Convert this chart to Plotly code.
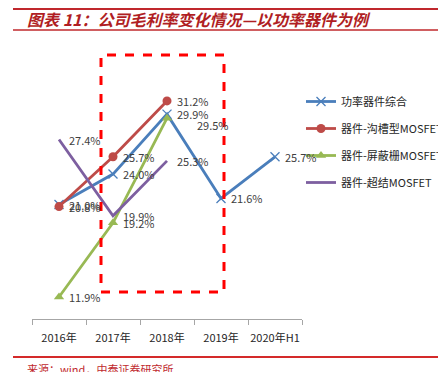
import plotly.graph_objects as go

categories = ["2016年", "2017年", "2018年", "2019年", "2020年H1"]
series_names = ["功率器件综合", "器件-沟槽型MOSFET", "器件-屏蔽栅MOSFET", "器件-超结MOSFET"]
composite = [21.0, 24.0, 29.9, 21.6, 25.7]
trench = [20.8, 25.7, 31.2]
shielded = [11.9, 19.2, 29.5]
superjunction = [27.4, 19.9, 25.3]
title_text = "图表 11：公司毛利率变化情况—以功率器件为例"
source_text = "来源：wind，中泰证券研究所"

colors = ["#4A7EBB", "#BE4B48", "#98B954", "#7D5FA0"]
markers = [dict(symbol="x-thin-open", size=9, line=dict(width=1.3, color="#8EB4E3")),
           dict(symbol="circle", size=9),
           dict(symbol="triangle-up", size=9),
           None]
values = [composite, trench, shielded, superjunction]

# page has an 8px body margin; figure is sized/placed to compensate
OFF = 8
PW, PH = 446, 372
L, R, T, B = 32, 302, 40, 319  # plot area in page pixels

fig = go.Figure()
for i, (name, vals) in enumerate(zip(series_names, values)):
    mk = markers[i]
    if mk is None:
        mode = "lines"
        mk = dict()
    else:
        mode = "lines+markers"
        mk = dict(mk)
        if "line" not in mk:
            mk["color"] = colors[i]
    fig.add_trace(go.Scatter(
        x=categories[:len(vals)], y=vals, name=name, mode=mode,
        line=dict(color=colors[i], width=2.8), marker=mk,
        legendgroup=str(i), cliponaxis=False,
    ))
    for j, v in enumerate(vals):
        xs, ys = 8, 0
        if i == 2 and j == 2:
            xs, ys = 28, -7
        fig.add_annotation(x=categories[j], y=v, text=f"{v:.1f}%", showarrow=False,
                           xanchor="left", yanchor="middle", xshift=xs, yshift=ys,
                           font=dict(size=11, color="#404040", family="Noto Sans CJK SC"))

def px_x(p):
    return (p - L) / (R - L)

def px_y(p):
    return (B - p) / (B - T)

shapes = [
    dict(type="rect", xref="paper", yref="paper", x0=px_x(101), x1=px_x(224), y0=px_y(292), y1=px_y(55),
         line=dict(color="#FF0000", width=3, dash="dash")),
    dict(type="line", xref="paper", yref="paper", x0=px_x(13), x1=px_x(446), y0=px_y(9), y1=px_y(9),
         line=dict(color="#C0282D", width=2)),
    dict(type="line", xref="paper", yref="paper", x0=px_x(13), x1=px_x(446), y0=px_y(30), y1=px_y(30),
         line=dict(color="#C0282D", width=1.5)),
    dict(type="line", xref="paper", yref="paper", x0=px_x(13), x1=px_x(446), y0=px_y(357), y1=px_y(357),
         line=dict(color="#D42A2A", width=2)),
]
fig.update_layout(shapes=shapes)

fig.add_annotation(xref="paper", yref="paper", x=px_x(25), y=px_y(19.5), text=f"<b><i>{title_text}</i></b>",
                   showarrow=False, xanchor="left", yanchor="middle",
                   font=dict(size=16, color="#B01E23", family="Noto Sans CJK SC"))
fig.add_annotation(xref="paper", yref="paper", x=px_x(25), y=px_y(369), text=source_text,
                   showarrow=False, xanchor="left", yanchor="middle",
                   font=dict(size=11, color="#C0282D", family="Noto Sans CJK SC"))

fig.update_layout(
    width=PW - OFF, height=PH - OFF,
    margin=dict(l=L - OFF, r=PW - R, t=T - OFF, b=PH - B, pad=0, autoexpand=False),
    paper_bgcolor="white", plot_bgcolor="white",
    font=dict(family="Noto Sans CJK SC", size=11, color="#262626"),
    showlegend=True,
    legend=dict(x=px_x(301), y=px_y(87), xanchor="left", yanchor="top",
                traceorder="grouped", tracegroupgap=8, bgcolor="rgba(0,0,0,0)",
                font=dict(size=11, color="#262626")),
    xaxis=dict(type="category", showgrid=False, showline=True, linecolor="#A6A6A6", linewidth=1,
               ticks="outside", tickcolor="#A6A6A6", ticklen=5, tickson="boundaries", tickangle=0,
               automargin=False,
               ticklabelstandoff=9, tickfont=dict(size=11, color="#262626"), range=[-0.5, 4.5]),
    yaxis=dict(visible=False, range=[9.73, 37.2]),
)

fig.write_html("out.html")
